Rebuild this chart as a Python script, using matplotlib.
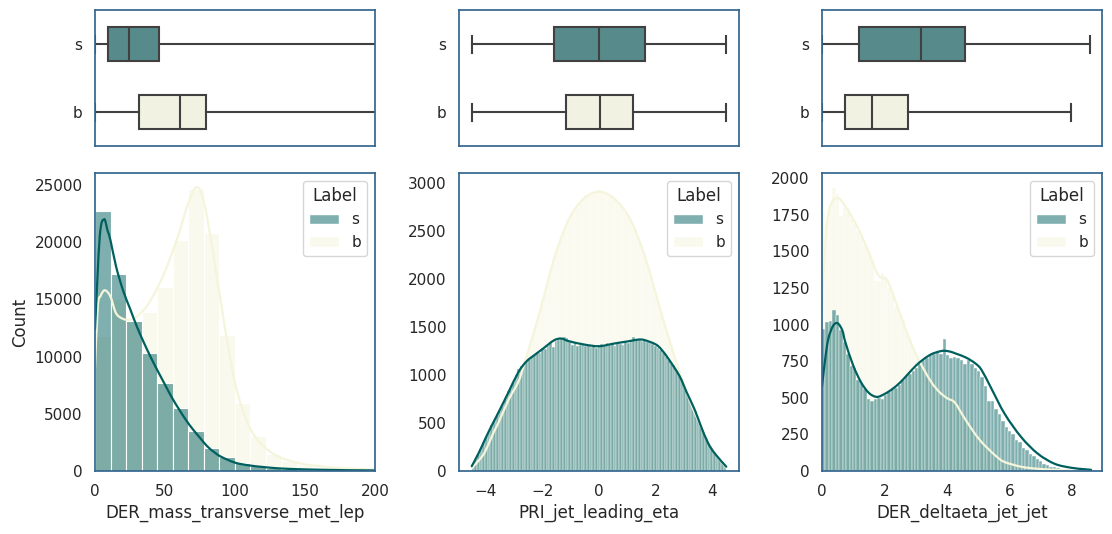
import numpy as np
import matplotlib.pyplot as plt
from matplotlib.colors import to_rgba
from matplotlib.patches import Patch, PathPatch
from matplotlib.path import Path

# ---------------- data ----------------
labels = ["s", "b"]

# DER_mass_transverse_met_lep
mass_bin_start, mass_bin_width = 0.0, 11.1
mass_s_counts = [22760, 17210, 13140, 10290, 7650, 5470, 3520, 2030, 1250, 730,
                 440, 260, 160, 110, 80, 60, 45, 35, 30]
mass_b_counts = [11800, 15000, 13100, 13870, 16080, 20200, 24650, 20780, 11920, 5960,
                 3050, 1510, 870, 520, 360, 260, 190, 140, 110]
mass_kde_s_x = [0, 3.4, 6.5, 9, 11, 15, 20, 25, 30, 35, 40, 45, 50, 55, 60, 65, 70,
                75, 80, 85, 90, 100, 110, 120, 130, 140, 150, 160, 170, 180, 190, 200]
mass_kde_s_y = [12400, 20500, 22000, 21000, 20200, 17900, 15800, 14200, 12600, 11200,
                9900, 8700, 7550, 6400, 5400, 4450, 3630, 2900, 2180, 1660, 1250, 730,
                490, 350, 240, 180, 140, 110, 90, 70, 60, 50]
mass_kde_b_x = [0, 2, 4, 7, 11, 15, 20, 25, 30, 35, 40, 45, 50, 55, 60, 65, 70, 73,
                76, 80, 85, 90, 95, 100, 105, 110, 115, 120, 130, 140, 150, 160, 170,
                180, 190, 200]
mass_kde_b_y = [9000, 14400, 15300, 15800, 15260, 13800, 13300, 13230, 13520, 14100,
                14970, 16130, 17440, 19040, 20780, 22820, 24420, 24800, 24300, 22240,
                18460, 14680, 10900, 7700, 5520, 3920, 2900, 2180, 1310, 870, 580, 440,
                290, 230, 170, 145]
mass_box_s = [0, 9.5, 24.0, 45.7, 700]   # whislo, q1, median, q3, whishi
mass_box_b = [0, 31.1, 60.5, 79.6, 900]

# PRI_jet_leading_eta
eta_range = (-4.5, 4.5)
eta_s_counts = [70, 130, 180, 240, 300, 360, 420, 480, 530, 590,
                640, 700, 760, 830, 870, 930, 1000, 1060, 1090, 1120,
                1140, 1170, 1190, 1210, 1240, 1230, 1280, 1270, 1300, 1330,
                1290, 1350, 1370, 1390, 1400, 1390, 1340, 1310, 1330, 1300,
                1310, 1320, 1300, 1310, 1290, 1300, 1280, 1310, 1320, 1300,
                1330, 1310, 1320, 1300, 1330, 1320, 1310, 1340, 1330, 1350,
                1400, 1370, 1360, 1350, 1370, 1340, 1330, 1320, 1300, 1280,
                1260, 1230, 1190, 1160, 1120, 1100, 1040, 1000, 940, 870,
                800, 740, 680, 620, 550, 480, 410, 340, 290, 240,
                200, 160, 120, 90, 60]
eta_b_counts = [45, 75, 105, 140, 185, 235, 300, 375, 430, 480,
                540, 600, 660, 730, 780, 830, 890, 940, 1010, 1100,
                1200, 1290, 1380, 1490, 1570, 1680, 1780, 1870, 1980, 2080,
                2190, 2270, 2360, 2420, 2500, 2560, 2640, 2680, 2720, 2740,
                2790, 2830, 2870, 2880, 2900, 2910, 2920, 2930, 2910, 2900,
                2880, 2870, 2850, 2820, 2800, 2770, 2730, 2690, 2650, 2590,
                2530, 2460, 2400, 2320, 2250, 2150, 2060, 1950, 1860, 1760,
                1670, 1570, 1480, 1390, 1300, 1210, 1130, 1050, 970, 880,
                800, 730, 660, 600, 530, 460, 410, 350, 300, 240,
                200, 160, 120, 80, 45]
eta_kde_s_x = [-4.5, -4.25, -4.03, -3.8, -3.56, -3.21, -2.85, -2.56, -2.26, -2.0,
               -1.6, -1.33, -1.07, -0.53, 0.0, 0.53, 1.07, 1.38, 1.6, 2.0, 2.21,
               2.5, 2.85, 3.1, 3.38, 3.6, 3.85, 4.1, 4.5]
eta_kde_s_y = [50, 190, 330, 470, 607, 815, 1030, 1143, 1213, 1270, 1360, 1380, 1353,
               1318, 1300, 1328, 1353, 1369, 1365, 1320, 1265, 1150, 988, 820, 641,
               470, 295, 180, 45]
eta_kde_b_x = [-4.5, -4.25, -4.03, -3.73, -3.56, -3.2, -2.85, -2.66, -2.13, -1.6,
               -1.07, -0.53, 0.0, 0.53, 1.07, 1.6, 2.13, 2.66, 3.2, 3.73, 4.0, 4.26, 4.5]
eta_kde_b_y = [30, 110, 200, 400, 500, 740, 930, 1100, 1620, 2200, 2620, 2840, 2910,
               2840, 2640, 2260, 1720, 1200, 740, 380, 230, 120, 35]
eta_box_s = [-4.49, -1.6, 0.0, 1.62, 4.49]
eta_box_b = [-4.49, -1.17, 0.04, 1.19, 4.49]

# DER_deltaeta_jet_jet
deta_range = (0.0, 8.7)
deta_s_counts = [970, 1020, 1025, 1100, 1065, 960, 880, 800, 720, 700,
                 620, 600, 560, 490, 480, 490, 500, 490, 520, 540,
                 560, 570, 590, 620, 650, 660, 680, 700, 750, 760,
                 770, 790, 800, 810, 800, 900, 790, 770, 780, 770,
                 760, 730, 760, 730, 700, 680, 640, 580, 480, 480,
                 420, 390, 340, 300, 270, 250, 210, 200, 160, 140,
                 115, 100, 80, 70, 50, 38, 30, 24, 18, 14,
                 11, 9, 7, 5, 4, 3, 2, 2, 1]
deta_b_counts = [1770, 1710, 1800, 1930, 1890, 1740, 1800, 1790, 1720, 1690,
                 1640, 1600, 1550, 1500, 1440, 1300, 1300, 1350, 1310, 1250,
                 1200, 1130, 1080, 1030, 960, 900, 850, 800, 760, 710,
                 670, 620, 580, 540, 510, 500, 490, 480, 460, 440,
                 400, 370, 330, 290, 250, 215, 190, 170, 150, 120,
                 100, 85, 70, 60, 50, 42, 36, 30, 26, 22,
                 19, 17, 15, 13, 12, 10, 9, 8, 7, 6,
                 5, 4, 3, 0, 0, 0, 0, 0, 0]
deta_kde_s_x = [0, 0.1, 0.2, 0.35, 0.5, 0.65, 0.75, 1.0, 1.25, 1.5, 1.75, 2.0, 2.25,
                2.5, 2.75, 3.0, 3.25, 3.5, 3.75, 3.9, 4.1, 4.3, 4.6, 4.9, 5.1, 5.41,
                5.84, 6.37, 6.9, 7.44, 7.97, 8.4, 8.6]
deta_kde_s_y = [580, 760, 900, 990, 1009, 960, 877, 719, 605, 533, 506, 526, 560, 605,
                662, 719, 764, 798, 816, 821, 815, 800, 775, 735, 690, 565, 390, 231,
                118, 49, 22, 12, 8]
deta_kde_b_x = [0, 0.1, 0.25, 0.5, 0.75, 1.0, 1.25, 1.5, 1.75, 1.9, 2.0, 2.1, 2.25,
                2.5, 2.75, 3.0, 3.25, 3.5, 3.75, 4.0, 4.24, 4.5, 4.78, 5.05, 5.31, 5.6,
                5.84, 6.37, 6.9, 7.5, 8.0]
deta_kde_b_y = [1120, 1550, 1800, 1864, 1807, 1717, 1615, 1490, 1354, 1320, 1320, 1297,
                1218, 1070, 923, 798, 696, 605, 540, 497, 469, 380, 288, 210, 152, 95,
                61, 29, 15, 8, 4]
deta_box_s = [0.0, 1.19, 3.15, 4.56, 8.56]
deta_box_b = [0.0, 0.75, 1.61, 2.75, 7.95]

# ---------------- style ----------------
S_COLOR = "#00605f"
B_COLOR = "#f5f5dc"
S_BOX = "#578a8a"
B_BOX = "#f1f2e2"
BOX_LINE = "#404040"
SPINE = "#33668f"
TEXT = "#262626"

plt.rcParams["font.family"] = "DejaVu Sans"
plt.rcParams["text.color"] = TEXT
plt.rcParams["axes.labelcolor"] = TEXT
plt.rcParams["xtick.color"] = TEXT
plt.rcParams["ytick.color"] = TEXT

fig = plt.figure(figsize=(11.12, 5.34), dpi=100)

col_left = [95 / 1112, 459 / 1112, 822 / 1112]
col_w = 280 / 1112
top_box = (1 - 146 / 534, 136 / 534)
bot_box = (1 - 471 / 534, 298 / 534)


def style_axes(ax):
    for sp in ax.spines.values():
        sp.set_color(SPINE)
        sp.set_linewidth(1.25)
    ax.tick_params(length=0, pad=9, labelsize=11)


def smooth_line(ax, xs, ys, color):
    # curve through the read points (Catmull-Rom as cubic Bezier segments)
    pts = np.column_stack([xs, ys]).astype(float)
    verts = [pts[0]]
    codes = [Path.MOVETO]
    for k in range(len(pts) - 1):
        p0 = pts[k - 1] if k > 0 else pts[k]
        p1, p2 = pts[k], pts[k + 1]
        p3 = pts[k + 2] if k + 2 < len(pts) else pts[k + 1]
        verts += [p1 + (p2 - p0) / 6, p2 - (p3 - p1) / 6, p2]
        codes += [Path.CURVE4] * 3
    ax.add_patch(PathPatch(Path(verts, codes), facecolor="none", edgecolor=color,
                           linewidth=1.6, capstyle="round"))


def box_panel(ax, s_stats, b_stats, xlim):
    stats = []
    for lab, st in zip(labels, [s_stats, b_stats]):
        stats.append({"label": lab, "whislo": st[0], "q1": st[1], "med": st[2],
                      "q3": st[3], "whishi": st[4]})
    line = dict(color=BOX_LINE, linewidth=1.5)
    bp = ax.bxp(stats, positions=[0, 1], widths=0.5, orientation="horizontal",
                patch_artist=True, showfliers=False,
                boxprops=dict(edgecolor=BOX_LINE, linewidth=1.5),
                medianprops=line, whiskerprops=line, capprops=line)
    for patch, fc in zip(bp["boxes"], [S_BOX, B_BOX]):
        patch.set_facecolor(fc)
    ax.set_xlim(*xlim)
    ax.set_ylim(1.5, -0.5)
    ax.set_yticks([0, 1], labels)
    ax.set_xticks([])
    style_axes(ax)


def hist_panel(ax, edges, s_counts, b_counts, kde_s, kde_b, lw):
    edges = np.asarray(edges)
    widths = np.diff(edges)
    ax.bar(edges[:-1], b_counts, width=widths, align="edge",
           facecolor=to_rgba(B_COLOR, 0.5), edgecolor="white", linewidth=lw)
    ax.bar(edges[:-1], s_counts, width=widths, align="edge",
           facecolor=to_rgba(S_COLOR, 0.5), edgecolor="white", linewidth=lw)
    smooth_line(ax, kde_b[0], kde_b[1], B_COLOR)
    smooth_line(ax, kde_s[0], kde_s[1], S_COLOR)
    handles = [Patch(facecolor=to_rgba(S_COLOR, 0.5), edgecolor="white"),
               Patch(facecolor=to_rgba(B_COLOR, 0.5), edgecolor="white")]
    leg = ax.legend(handles, labels, title="Label", loc="upper right",
                    fontsize=11, title_fontsize=12, frameon=True)
    leg.get_frame().set_edgecolor("#cccccc")
    style_axes(ax)


mass_edges = mass_bin_start + mass_bin_width * np.arange(len(mass_s_counts) + 1)
eta_edges = np.linspace(eta_range[0], eta_range[1], len(eta_s_counts) + 1)
deta_edges = np.linspace(deta_range[0], deta_range[1], len(deta_s_counts) + 1)

panels = [
    ("DER_mass_transverse_met_lep", mass_edges, mass_s_counts, mass_b_counts,
     (mass_kde_s_x, mass_kde_s_y), (mass_kde_b_x, mass_kde_b_y),
     mass_box_s, mass_box_b, (0, 200), (0, 26050), [0, 50, 100, 150, 200],
     np.arange(0, 25001, 5000), 0.8),
    ("PRI_jet_leading_eta", eta_edges, eta_s_counts, eta_b_counts,
     (eta_kde_s_x, eta_kde_s_y), (eta_kde_b_x, eta_kde_b_y),
     eta_box_s, eta_box_b, (-4.95, 4.95), (0, 3105), [-4, -2, 0, 2, 4],
     np.arange(0, 3001, 500), 0.3),
    ("DER_deltaeta_jet_jet", deta_edges, deta_s_counts, deta_b_counts,
     (deta_kde_s_x, deta_kde_s_y), (deta_kde_b_x, deta_kde_b_y),
     deta_box_s, deta_box_b, (0, 8.95), (0, 2035), [0, 2, 4, 6, 8],
     np.arange(0, 2001, 250), 0.3),
]

for i, (name, edges, sc, bc, ks, kb, bs, bb, xlim, ylim, xt, yt, lw) in enumerate(panels):
    ax_box = fig.add_axes([col_left[i], top_box[0], col_w, top_box[1]])
    box_panel(ax_box, bs, bb, xlim)

    ax = fig.add_axes([col_left[i], bot_box[0], col_w, bot_box[1]])
    hist_panel(ax, edges, sc, bc, ks, kb, lw)
    ax.set_xlim(*xlim)
    ax.set_ylim(*ylim)
    ax.set_xticks(xt)
    ax.set_yticks(yt)
    ax.set_xlabel(name, fontsize=12, labelpad=4)
    if i == 0:
        ax.set_ylabel("Count", fontsize=12)

fig.savefig("out.png", dpi=100)
